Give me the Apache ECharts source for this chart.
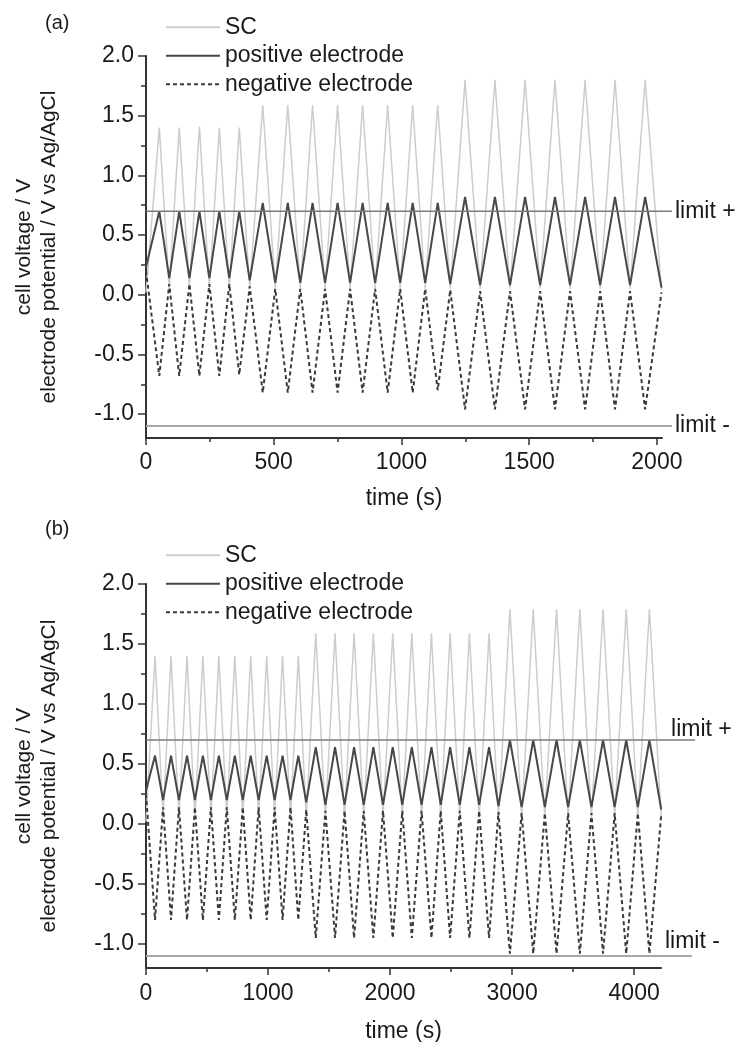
<!DOCTYPE html>
<html>
<head>
<meta charset="utf-8">
<title>cell voltage and electrode potentials</title>
<script src="https://cdn.jsdelivr.net/npm/echarts@6.0.0/dist/echarts.min.js"></script>
<style>
  html, body { margin: 0; padding: 0; background: #fff; }
  #main { width: 738px; height: 1042px; }
</style>
</head>
<body>
<div id="main"></div>
<script>
// panel (a): turning points of the triangular cycles (time in s, potential in V)
var timeA = [0, 52, 91, 130, 170, 209, 248, 287, 326, 365, 406,
    457, 506, 555, 604, 652, 701, 750, 799, 848, 897, 946, 995, 1044, 1093, 1142, 1191,
    1249, 1308, 1366, 1425, 1484, 1543, 1601, 1660, 1719, 1778, 1836, 1895, 1954, 2018];
var scA = [0.02, 1.40, 0.05, 1.40, 0.05, 1.41, 0.05, 1.40, 0.05, 1.40, 0.05,
    1.59, 0.05, 1.59, 0.05, 1.59, 0.05, 1.59, 0.05, 1.59, 0.05, 1.59, 0.05, 1.59, 0.05, 1.59, 0.05,
    1.80, 0.05, 1.80, 0.05, 1.80, 0.05, 1.80, 0.05, 1.80, 0.05, 1.80, 0.05, 1.80, 0.04];
var posA = [0.23, 0.70, 0.14, 0.70, 0.14, 0.70, 0.14, 0.70, 0.14, 0.70, 0.12,
    0.77, 0.10, 0.77, 0.10, 0.77, 0.10, 0.77, 0.10, 0.77, 0.10, 0.77, 0.10, 0.77, 0.10, 0.77, 0.09,
    0.82, 0.08, 0.82, 0.08, 0.82, 0.08, 0.82, 0.08, 0.82, 0.08, 0.82, 0.08, 0.82, 0.06];
var negA = [0.20, -0.68, 0.09, -0.68, 0.09, -0.68, 0.09, -0.68, 0.09, -0.67, 0.07,
    -0.82, 0.05, -0.82, 0.05, -0.82, 0.05, -0.82, 0.05, -0.82, 0.05, -0.82, 0.05, -0.82, 0.05, -0.80, 0.04,
    -0.96, 0.03, -0.96, 0.03, -0.96, 0.03, -0.96, 0.03, -0.96, 0.03, -0.96, 0.03, -0.96, 0.02];

// panel (b)
var timeB = [0, 74, 140, 205, 270, 336, 401, 466, 532, 597, 662, 728, 793, 858, 923, 989, 1054, 1119, 1184, 1248, 1313,
    1391, 1470, 1549, 1627, 1705, 1784, 1863, 1942, 2022, 2100, 2178, 2258, 2339, 2415, 2492, 2571, 2650, 2730, 2811, 2888,
    2982, 3078, 3173, 3268, 3364, 3459, 3555, 3650, 3745, 3840, 3935, 4030, 4125, 4222];
var scB = [0.02, 1.40, 0.05, 1.40, 0.05, 1.40, 0.05, 1.40, 0.05, 1.40, 0.05, 1.40, 0.05, 1.40, 0.05, 1.40, 0.05, 1.40, 0.05, 1.40, 0.05,
    1.59, 0.05, 1.59, 0.05, 1.59, 0.05, 1.59, 0.05, 1.59, 0.05, 1.59, 0.05, 1.59, 0.05, 1.59, 0.05, 1.59, 0.05, 1.59, 0.05,
    1.79, 0.05, 1.79, 0.05, 1.79, 0.05, 1.79, 0.05, 1.79, 0.05, 1.79, 0.05, 1.79, 0.04];
var posB = [0.28, 0.57, 0.20, 0.57, 0.20, 0.57, 0.20, 0.57, 0.20, 0.57, 0.20, 0.57, 0.20, 0.57, 0.20, 0.57, 0.20, 0.57, 0.20, 0.57, 0.18,
    0.64, 0.16, 0.64, 0.16, 0.64, 0.16, 0.64, 0.16, 0.64, 0.16, 0.64, 0.16, 0.64, 0.16, 0.64, 0.16, 0.64, 0.16, 0.64, 0.15,
    0.70, 0.14, 0.70, 0.14, 0.70, 0.14, 0.70, 0.14, 0.70, 0.14, 0.70, 0.14, 0.70, 0.12];
var negB = [0.25, -0.80, 0.14, -0.80, 0.14, -0.80, 0.14, -0.80, 0.14, -0.80, 0.14, -0.80, 0.14, -0.80, 0.14, -0.80, 0.14, -0.80, 0.14, -0.80, 0.12,
    -0.95, 0.11, -0.95, 0.11, -0.95, 0.11, -0.95, 0.11, -0.95, 0.11, -0.95, 0.11, -0.95, 0.11, -0.95, 0.11, -0.95, 0.11, -0.95, 0.10,
    -1.08, 0.09, -1.08, 0.09, -1.08, 0.09, -1.08, 0.09, -1.08, 0.09, -1.08, 0.09, -1.08, 0.08];

// safety limits of the electrodes, the lines run a bit past the time axis
var limitPlus = 0.7;
var limitMinus = -1.1;
var limitEndA = [2059, 2059];
var limitEndB = [4499, 4474];

var xTicksA = [0, 500, 1000, 1500, 2000];
var xMinorA = [250, 750, 1250, 1750];
var xTicksB = [0, 1000, 2000, 3000, 4000];
var xMinorB = [500, 1500, 2500, 3500];
var yTicks = [-1.0, -0.5, 0.0, 0.5, 1.0, 1.5, 2.0];
var yMinor = [-0.75, -0.25, 0.25, 0.75, 1.25, 1.75];

var FONT = '"Liberation Sans", Arial, sans-serif';
var TXT = '#1a1a1a';
var AX = '#333';

function pairs(t, v) {
    return t.map(function (x, i) { return [x, v[i]]; });
}

function mainX(grid, max, ticks, gap, margin) {
    return {
        gridIndex: grid, type: 'value', position: 'bottom', min: 0, max: max,
        axisLine: { onZero: false, lineStyle: { color: AX, width: 2 } },
        axisTick: { customValues: ticks, length: 7, lineStyle: { color: AX, width: 1.5 } },
        axisLabel: { customValues: ticks, margin: margin, fontSize: 23, color: TXT, fontFamily: FONT,
            formatter: function (v) { return String(v); } },
        splitLine: { show: false },
        name: 'time (s)', nameLocation: 'middle', nameGap: gap,
        nameTextStyle: { fontSize: 23, color: TXT, fontFamily: FONT }
    };
}
function minorX(grid, max, ticks) {
    return {
        gridIndex: grid, type: 'value', position: 'bottom', min: 0, max: max,
        axisLine: { show: false, onZero: false },
        axisTick: { customValues: ticks, length: 4, lineStyle: { color: AX, width: 1.5 } },
        axisLabel: { show: false }, splitLine: { show: false }
    };
}
function hiddenX(grid, max) {
    return { gridIndex: grid, type: 'value', position: 'bottom', min: 0, max: max, show: false };
}
function mainY(grid) {
    return {
        gridIndex: grid, type: 'value', position: 'left', min: -1.2, max: 2.0,
        axisLine: { show: true, onZero: false, lineStyle: { color: AX, width: 2 } },
        axisTick: { show: true, customValues: yTicks, length: 8, lineStyle: { color: AX, width: 1.5 } },
        axisLabel: { customValues: yTicks, margin: 12, fontSize: 23, color: TXT, fontFamily: FONT,
            formatter: function (v) { return v.toFixed(1); } },
        splitLine: { show: false },
        name: 'cell voltage / V\nelectrode potential / V vs Ag/AgCl',
        nameLocation: 'middle', nameRotate: 90, nameGap: 84,
        nameTextStyle: { fontSize: 21, lineHeight: 25, color: TXT, fontFamily: FONT, align: 'center' }
    };
}
function minorY(grid) {
    return {
        gridIndex: grid, type: 'value', position: 'left', min: -1.2, max: 2.0,
        axisLine: { show: false, onZero: false },
        axisTick: { show: true, customValues: yMinor, length: 5, lineStyle: { color: AX, width: 1.5 } },
        axisLabel: { show: false }, splitLine: { show: false }
    };
}
function hiddenY(grid) {
    return { gridIndex: grid, type: 'value', position: 'left', min: -1.2, max: 2.0, show: false };
}

function curves(xi, yi, t, sc, pos, neg) {
    var common = { type: 'line', xAxisIndex: xi, yAxisIndex: yi, symbol: 'none', silent: true, animation: false };
    return [
        Object.assign({ name: 'SC', data: pairs(t, sc), lineStyle: { color: '#cdcdcd', width: 1.5 }, itemStyle: { color: '#cdcdcd' }, z: 2 }, common),
        Object.assign({ name: 'positive electrode', data: pairs(t, pos), lineStyle: { color: '#484848', width: 2 }, itemStyle: { color: '#484848' }, z: 4 }, common),
        Object.assign({ name: 'negative electrode', data: pairs(t, neg), lineStyle: { color: '#3a3a3a', width: 2, type: [4, 3] }, itemStyle: { color: '#3a3a3a' }, z: 3 }, common)
    ];
}
function limits(xi, yi, ends, plusOff, minusOff) {
    var common = { type: 'line', xAxisIndex: xi, yAxisIndex: yi, symbol: 'none', silent: true, animation: false };
    return [
        Object.assign({ name: 'limit +', data: [[0, limitPlus], [ends[0], limitPlus]],
            lineStyle: { color: '#7a7a7a', width: 1.5 }, z: 5,
            endLabel: { show: true, formatter: 'limit +', distance: 3, offset: plusOff, fontSize: 23, color: TXT, fontFamily: FONT } }, common),
        Object.assign({ name: 'limit -', data: [[0, limitMinus], [ends[1], limitMinus]],
            lineStyle: { color: '#a8a8a8', width: 2 }, z: 5,
            endLabel: { show: true, formatter: 'limit -', distance: 3, offset: minusOff, fontSize: 23, color: TXT, fontFamily: FONT } }, common)
    ];
}

function legend(top) {
    return {
        data: ['SC', 'positive electrode', 'negative electrode'],
        orient: 'vertical', left: 160, top: top,
        itemWidth: 54, itemHeight: 14, itemGap: 4,
        selectedMode: false,
        itemStyle: { opacity: 0 },
        textStyle: { fontSize: 23, lineHeight: 24.5, color: TXT, fontFamily: FONT }
    };
}

var chart = echarts.init(document.getElementById('main'), null, { renderer: 'canvas' });
chart.setOption({
    backgroundColor: '#fff',
    animation: false,
    title: [
        { text: '(a)', left: 40, top: 8, textStyle: { fontSize: 20, fontWeight: 'normal', color: TXT, fontFamily: FONT } },
        { text: '(b)', left: 40, top: 514, textStyle: { fontSize: 20, fontWeight: 'normal', color: TXT, fontFamily: FONT } }
    ],
    legend: [legend(10), legend(538)],
    grid: [
        { left: 146, top: 56, width: 516, height: 382, containLabel: false, outerBoundsMode: 'none' },
        { left: 146, top: 584, width: 515, height: 384, containLabel: false, outerBoundsMode: 'none' },
        // same scale as the panels, wider so the limit lines can pass the axis end
        { left: 146, top: 56, width: 530, height: 382, containLabel: false, outerBoundsMode: 'none' },
        { left: 146, top: 584, width: 550, height: 384, containLabel: false, outerBoundsMode: 'none' }
    ],
    xAxis: [
        mainX(0, 2020, xTicksA, 49, 13), minorX(0, 2020, xMinorA),
        mainX(1, 4220, xTicksB, 52, 14), minorX(1, 4220, xMinorB),
        hiddenX(2, 2075), hiddenX(3, 4507)
    ],
    yAxis: [mainY(0), minorY(0), mainY(1), minorY(1), hiddenY(2), hiddenY(3)],
    series: curves(0, 0, timeA, scA, posA, negA)
        .concat(curves(2, 2, timeB, scB, posB, negB))
        .concat(limits(4, 4, limitEndA, [0, 0], [0, 0]))
        .concat(limits(5, 5, limitEndB, [-27, -10], [-30, -14]))
});
</script>
</body>
</html>
